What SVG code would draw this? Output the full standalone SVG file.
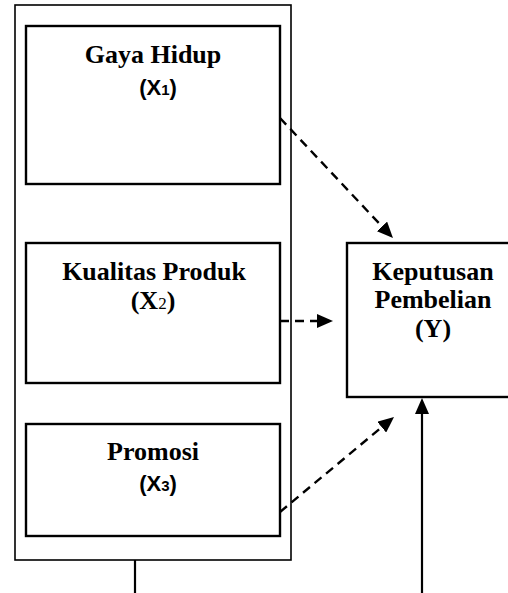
<svg xmlns="http://www.w3.org/2000/svg" width="508" height="593" viewBox="0 0 508 593">
<style>
.box{fill:#fff;stroke:#000;stroke-width:2.4}
.outer{fill:#fff;stroke:#000;stroke-width:1.6}
.t{font-family:"Liberation Serif","Times New Roman",serif;font-weight:bold;font-size:26px;text-anchor:middle;fill:#000}
.s{font-family:"Liberation Sans",Arial,sans-serif;font-weight:bold;font-size:22px;text-anchor:middle;fill:#000}
.dash{stroke:#000;stroke-width:2.4;fill:none;stroke-dasharray:9 6}
.solid{stroke:#000;stroke-width:2.2;fill:none}
</style>
<defs>
<marker id="ah" viewBox="0 0 16 14" refX="0" refY="7" markerWidth="16" markerHeight="14" markerUnits="userSpaceOnUse" orient="auto">
<path d="M0,0 L16,7 L0,14 z" fill="#000"/>
</marker>
</defs>
<g id="group-X">
<rect class="outer" x="15" y="5" width="276" height="555"/>
</g>
<g id="node-X1">
<rect class="box" x="26" y="26" width="254" height="158"/>
<text class="t" x="153" y="63">Gaya Hidup</text>
<text class="s" x="158" y="95">(X<tspan font-size="15">1</tspan>)</text>
</g>
<g id="node-X2">
<rect class="box" x="26" y="243" width="254" height="140"/>
<text class="t" x="154" y="280">Kualitas Produk</text>
<text class="t" x="153" y="309">(X<tspan font-size="17" font-weight="normal">2</tspan>)</text>
</g>
<g id="node-X3">
<rect class="box" x="26" y="424" width="254" height="112"/>
<text class="t" x="153" y="460">Promosi</text>
<text class="s" x="158" y="491">(X<tspan font-size="15">3</tspan>)</text>
</g>
<g id="node-Y">
<rect class="box" x="347" y="243" width="170" height="154"/>
<text class="t" x="433" y="280">Keputusan</text>
<text class="t" x="433" y="308">Pembelian</text>
<text class="t" x="433" y="337">(Y)</text>
</g>
<g id="connectors">
<path class="dash" d="M280,118 L382,226.4" marker-end="url(#ah)"/>
<path class="dash" d="M280,321 L317,321" stroke-dasharray="11 6 8 6" marker-end="url(#ah)"/>
<path class="dash" d="M280,512 L381.7,427.2" marker-end="url(#ah)"/>
<path class="solid" d="M422,593 L422,414" marker-end="url(#ah)"/>
<path class="solid" d="M135,560 L135,593"/>
</g>
</svg>
